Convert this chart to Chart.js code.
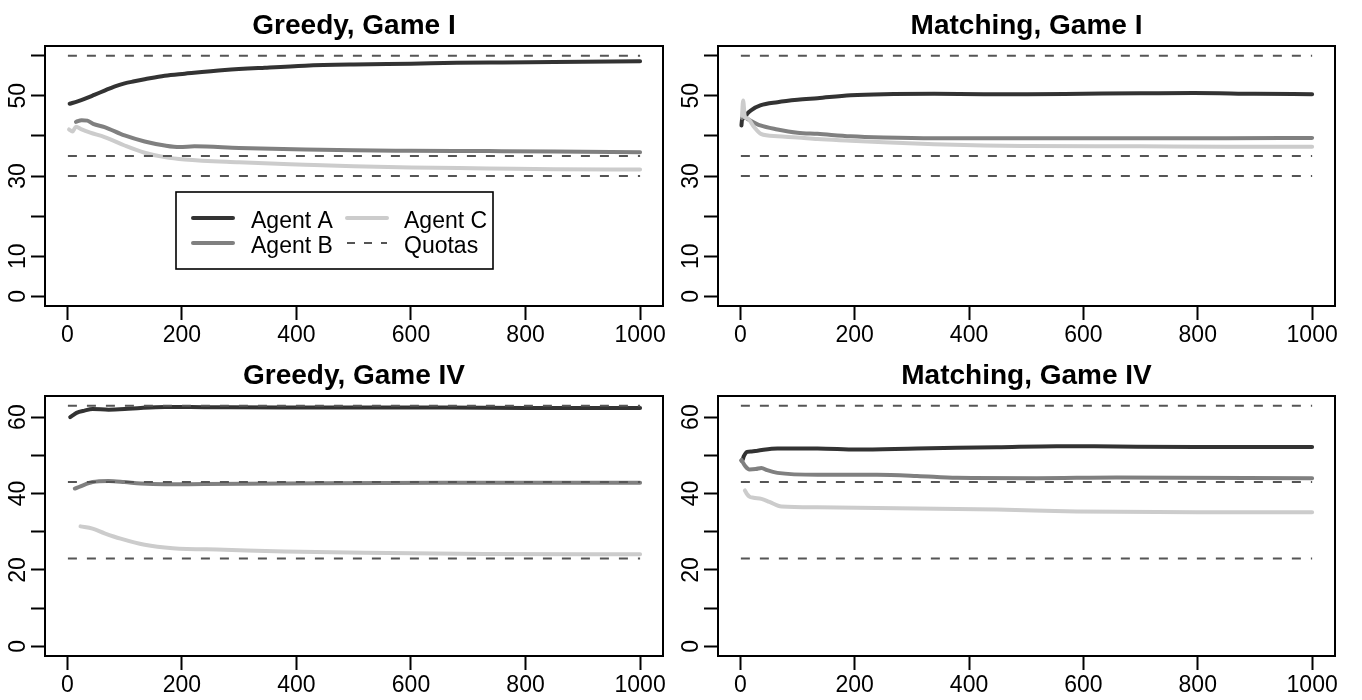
<!DOCTYPE html>
<html>
<head>
<meta charset="utf-8">
<script src="https://cdn.jsdelivr.net/npm/chart.js@4.4.1/dist/chart.umd.min.js"></script>
<style>
  html, body { margin: 0; padding: 0; background: #fff; }
  #wrap { position: relative; width: 1362px; height: 700px; }
  .panel { position: absolute; width: 681px; height: 350px; }
</style>
</head>
<body>
<div id="wrap">
  <div class="panel" style="left:0;top:0"><canvas id="greedyI" width="681" height="350"></canvas></div>
  <div class="panel" style="left:681px;top:0"><canvas id="matchingI" width="681" height="350"></canvas></div>
  <div class="panel" style="left:0;top:350px"><canvas id="greedyIV" width="681" height="350"></canvas></div>
  <div class="panel" style="left:681px;top:350px"><canvas id="matchingIV" width="681" height="350"></canvas></div>
</div>
<script>
// axis ticks and labels
const xTicks = [0, 200, 400, 600, 800, 1000];
const yTicks = [0, 10, 20, 30, 40, 50, 60];
const yLabelsGameI = [0, 10, 30, 50];
const yLabelsGameIV = [0, 20, 40, 60];
const agentNames = ['Agent A', 'Agent B', 'Agent C'];
const quotaLabel = 'Quotas';
const roundsSpan = [1, 1000];

// quotas
const quotasGameI = [60, 35, 30];
const quotasGameIV = [63, 43, 23];

// Greedy, Game I
const greedyIAx = [4, 18, 30, 47, 65, 82, 100, 117, 135, 170, 205, 275, 345, 415, 500, 600, 680, 760, 850, 1000];
const greedyIAy = [48.0, 48.6, 49.2, 50.2, 51.3, 52.3, 53.1, 53.6, 54.1, 55.0, 55.5, 56.4, 57.0, 57.5, 57.8, 58.0, 58.2, 58.3, 58.4, 58.6];
const greedyIBx = [15, 25, 35, 45, 65, 100, 135, 170, 196, 222, 300, 415, 500, 600, 735, 850, 1000];
const greedyIBy = [43.5, 43.9, 43.8, 43.0, 42.2, 40.1, 38.6, 37.6, 37.2, 37.4, 37.0, 36.6, 36.4, 36.3, 36.2, 36.1, 35.9];
const greedyICx = [3, 9, 15, 25, 40, 65, 100, 135, 170, 205, 300, 415, 500, 600, 735, 850, 1000];
const greedyICy = [41.6, 41.1, 42.3, 41.6, 40.8, 39.7, 37.6, 35.8, 34.7, 34.1, 33.4, 32.8, 32.4, 32.1, 31.9, 31.7, 31.6];

// Matching, Game I
const matchingIAx = [2, 3, 8, 12, 20, 35, 65, 100, 135, 193, 251, 339, 426, 502, 600, 700, 793, 900, 1000];
const matchingIAy = [42.6, 44.0, 44.5, 45.5, 46.5, 47.6, 48.4, 49.0, 49.4, 50.1, 50.4, 50.5, 50.4, 50.4, 50.5, 50.6, 50.7, 50.5, 50.4];
const matchingIBx = [3, 5, 10, 18, 35, 65, 100, 135, 193, 251, 339, 502, 700, 850, 1000];
const matchingIBy = [44.5, 45.2, 44.5, 43.8, 42.6, 41.6, 40.8, 40.5, 39.9, 39.6, 39.4, 39.4, 39.4, 39.4, 39.5];
const matchingICx = [3, 5, 8, 12, 24, 36, 65, 100, 135, 193, 251, 339, 426, 502, 700, 850, 1000];
const matchingICy = [45.0, 48.8, 44.6, 44.4, 42.2, 40.5, 39.9, 39.6, 39.2, 38.8, 38.4, 37.9, 37.6, 37.5, 37.4, 37.3, 37.3];

// Greedy, Game IV
const greedyIVAx = [5, 10, 16, 30, 44, 72, 100, 128, 170, 239, 379, 500, 658, 800, 1000];
const greedyIVAy = [60.0, 60.5, 61.1, 61.7, 62.1, 61.95, 62.1, 62.4, 62.65, 62.6, 62.5, 62.5, 62.5, 62.4, 62.4];
const greedyIVBx = [13, 23, 44, 72, 100, 128, 170, 239, 449, 658, 1000];
const greedyIVBy = [41.3, 41.9, 43.0, 43.3, 43.0, 42.6, 42.4, 42.5, 42.7, 42.8, 42.8];
const greedyIVCx = [23, 44, 65, 93, 135, 184, 274, 379, 518, 728, 1000];
const greedyIVCy = [31.4, 30.8, 29.6, 28.2, 26.6, 25.7, 25.3, 24.8, 24.5, 24.2, 24.1];

// Matching, Game IV
const matchingIVAx = [2, 4, 6, 12, 20, 30, 65, 135, 204, 309, 449, 553, 658, 798, 1000];
const matchingIVAy = [48.6, 48.8, 49.7, 50.9, 51.0, 51.2, 51.8, 51.8, 51.5, 51.8, 52.1, 52.4, 52.3, 52.2, 52.2];
const matchingIVBx = [2, 9, 16, 27, 37, 47, 65, 135, 239, 309, 379, 518, 658, 1000];
const matchingIVBy = [48.8, 47.1, 46.3, 46.4, 46.7, 46.1, 45.4, 44.9, 44.9, 44.6, 44.1, 44.0, 44.2, 44.0];
const matchingIVCx = [8, 12, 16, 23, 37, 51, 72, 135, 239, 449, 588, 798, 1000];
const matchingIVCy = [40.8, 39.8, 39.2, 38.9, 38.6, 37.8, 36.6, 36.4, 36.2, 35.8, 35.3, 35.1, 35.1];

const FONT = '"Liberation Sans", Arial, Helvetica, sans-serif';
const agentColors = ['#333333', '#808080', '#cccccc'];
const quotaColor = '#555555';
const quotaDash = [9, 10];

function drawLegend(ctx, a) {
  const lx = a.left + 131, ly = a.top + 146;
  ctx.lineWidth = 1.6;
  ctx.strokeStyle = '#000';
  ctx.strokeRect(lx, ly, 317, 77);
  const items = [
    { label: agentNames[0], color: agentColors[0], col: 0, row: 0 },
    { label: agentNames[1], color: agentColors[1], col: 0, row: 1 },
    { label: agentNames[2], color: agentColors[2], col: 1, row: 0 },
    { label: quotaLabel, color: quotaColor, col: 1, row: 1, dash: true }
  ];
  ctx.font = '23px ' + FONT;
  ctx.textAlign = 'left';
  ctx.textBaseline = 'alphabetic';
  items.forEach(it => {
    const x0 = lx + (it.col ? 171 : 17);
    const yl = ly + (it.row ? 51 : 26);
    ctx.save();
    ctx.strokeStyle = it.color;
    ctx.lineWidth = it.dash ? 2 : 4;
    ctx.lineCap = it.dash ? 'butt' : 'round';
    if (it.dash) ctx.setLineDash([8, 9]);
    ctx.beginPath();
    ctx.moveTo(x0, yl);
    ctx.lineTo(x0 + 40, yl);
    ctx.stroke();
    ctx.restore();
    ctx.fillStyle = '#000';
    ctx.fillText(it.label, lx + (it.col ? 228 : 75), ly + (it.row ? 60.5 : 36));
  });
}

const rFrame = {
  id: 'rFrame',
  afterDraw(chart, args, opts) {
    const { ctx, chartArea: a } = chart;
    const y = chart.scales.y;
    ctx.save();
    ctx.strokeStyle = '#000';
    ctx.lineWidth = 2;
    ctx.strokeRect(a.left, a.top, a.right - a.left, a.bottom - a.top);
    ctx.fillStyle = '#000';
    ctx.font = 'bold 28px ' + FONT;
    ctx.textAlign = 'center';
    ctx.textBaseline = 'alphabetic';
    ctx.fillText(opts.title, (a.left + a.right) / 2, a.top - 12);
    ctx.font = '23px ' + FONT;
    opts.yLabels.forEach(v => {
      ctx.save();
      ctx.translate(a.left - 20, y.getPixelForValue(v));
      ctx.rotate(-Math.PI / 2);
      ctx.fillText(String(v), 0, 0);
      ctx.restore();
    });
    if (opts.legend) drawLegend(ctx, a);
    ctx.restore();
  }
};

function makePanel(id, title, series, quotas, yMax, yLabels, leftW, padRight, legend) {
  const datasets = series.map((s, i) => ({
    label: agentNames[i],
    data: s[0].map((xv, j) => ({ x: xv, y: s[1][j] })),
    borderColor: agentColors[i],
    borderWidth: 4,
    pointRadius: 0,
    cubicInterpolationMode: 'monotone',
    borderCapStyle: 'round',
    borderJoinStyle: 'round',
    order: 3 - i
  }));
  quotas.forEach(q => datasets.push({
    label: quotaLabel,
    data: roundsSpan.map(r => ({ x: r, y: q })),
    borderColor: quotaColor,
    borderWidth: 2,
    borderDash: quotaDash,
    pointRadius: 0,
    order: 0
  }));
  const axisGrid = { display: true, drawOnChartArea: false, drawTicks: true, tickLength: 14, tickWidth: 2, tickColor: '#000' };
  const axisBorder = { display: true, color: '#000', width: 2 };
  const pad = yMax * 0.04;
  new Chart(document.getElementById(id), {
    type: 'line',
    data: { datasets },
    options: {
      responsive: false,
      animation: false,
      events: [],
      layout: { padding: { top: 46, right: padRight, bottom: 0, left: 0 } },
      plugins: {
        legend: { display: false },
        tooltip: { enabled: false },
        rFrame: { title, yLabels, legend }
      },
      scales: {
        x: {
          type: 'linear',
          min: -39,
          max: 1040,
          afterBuildTicks: s => { s.ticks = xTicks.map(v => ({ value: v })); },
          afterFit: s => { s.height = 44; },
          grid: axisGrid,
          border: axisBorder,
          ticks: {
            color: '#000',
            font: { family: FONT, size: 23 },
            padding: 2,
            maxRotation: 0,
            autoSkip: false,
            callback: v => String(v)
          }
        },
        y: {
          type: 'linear',
          min: -pad,
          max: yMax + pad,
          afterBuildTicks: s => { s.ticks = yTicks.map(v => ({ value: v })); },
          afterFit: s => { s.width = leftW; },
          grid: axisGrid,
          border: axisBorder,
          ticks: { callback: () => '', padding: 0 }
        }
      }
    },
    plugins: [rFrame]
  });
}

makePanel('greedyI', 'Greedy, Game I',
  [[greedyIAx, greedyIAy], [greedyIBx, greedyIBy], [greedyICx, greedyICy]],
  quotasGameI, 60, yLabelsGameI, 45, 18, true);
makePanel('matchingI', 'Matching, Game I',
  [[matchingIAx, matchingIAy], [matchingIBx, matchingIBy], [matchingICx, matchingICy]],
  quotasGameI, 60, yLabelsGameI, 37, 27, false);
makePanel('greedyIV', 'Greedy, Game IV',
  [[greedyIVAx, greedyIVAy], [greedyIVBx, greedyIVBy], [greedyIVCx, greedyIVCy]],
  quotasGameIV, 63, yLabelsGameIV, 45, 18, false);
makePanel('matchingIV', 'Matching, Game IV',
  [[matchingIVAx, matchingIVAy], [matchingIVBx, matchingIVBy], [matchingIVCx, matchingIVCy]],
  quotasGameIV, 63, yLabelsGameIV, 37, 27, false);
</script>
</body>
</html>
